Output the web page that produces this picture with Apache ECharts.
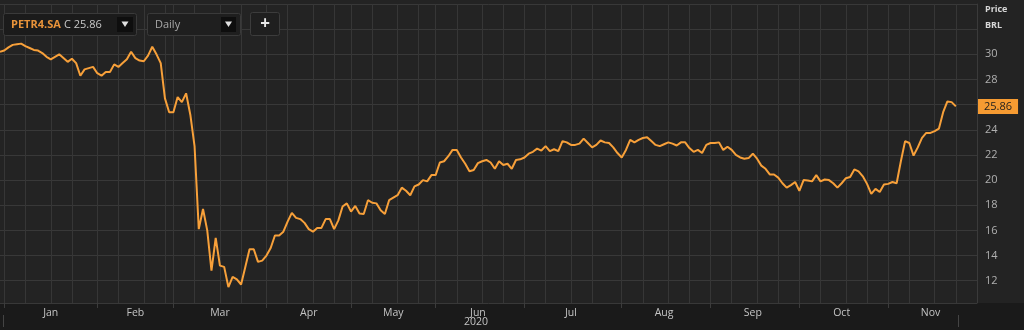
<!DOCTYPE html>
<html>
<head>
<meta charset="utf-8">
<script src="https://cdn.jsdelivr.net/npm/echarts@6/dist/echarts.min.js"></script>
<style>
  html, body { margin:0; padding:0; }
  body { width:1024px; height:330px; background: linear-gradient(to bottom, #232323 0px, #232323 303px, #1a1a1a 303px, #1a1a1a 330px); }
  #chart { width:1024px; height:330px; }
</style>
</head>
<body>
<div id="chart"></div>
<script>
// ---- data ----
const symbol = 'PETR4.SA';
const lastClose = 25.86;
const yearLabel = '2020';
const monthNames = ['Jan','Feb','Mar','Apr','May','Jun','Jul','Aug','Sep','Oct','Nov','Dec'];
const yTickLabels = [12, 14, 16, 18, 20, 22, 24, 26, 28, 30];
const holidays = ['2020-01-01','2020-02-24','2020-02-25','2020-04-10','2020-04-21','2020-05-01',
                  '2020-06-11','2020-09-07','2020-10-12','2020-11-02'];
const pricesDec = [30.2];
const pricesJanFeb = [30.3, 30.55, 30.75, 30.8, 30.85, 30.65, 30.5, 30.35, 30.3, 30.1,
  29.8, 29.6, 29.8, 30.0, 29.7, 29.4, 29.65, 29.3, 28.3, 28.8, 28.9, 29.0,
  28.5, 28.3, 28.6, 28.6, 29.2, 29.0, 29.3, 29.6, 30.2, 29.7, 29.5, 29.45, 29.9, 30.6, 30.0, 29.3, 26.5, 25.4];
const pricesMarApr = [25.4, 26.6, 26.2, 26.9, 25.2, 22.7, 16.1, 17.7, 16.0, 12.8, 15.4, 13.2, 13.1, 11.5,
  12.3, 12.1, 11.7, 13.1, 14.5, 14.5, 13.5, 13.6,
  14.0, 14.6, 15.6, 15.6, 15.9, 16.7, 17.4, 17.0, 16.9, 16.6, 16.1, 15.9, 16.2, 16.2, 16.9, 16.9, 16.1, 16.8, 17.9, 18.15];
const pricesMayJun = [17.5, 17.95, 17.35, 17.3, 18.4, 18.2, 18.15, 17.6, 17.3, 18.4, 18.6, 18.8, 19.4, 19.15,
  18.8, 19.5, 19.65, 20.0, 19.9, 20.4,
  20.4, 21.4, 21.5, 21.9, 22.4, 22.4, 21.8, 21.3, 20.7, 20.8, 21.35, 21.5, 21.6, 21.4, 20.9, 21.5, 21.2, 21.3, 20.9, 21.6, 21.65];
const pricesJulAug = [21.8, 22.1, 22.25, 22.5, 22.35, 22.7, 22.3, 22.45, 22.3, 23.1, 23.0, 22.8, 22.8, 22.9,
  23.3, 22.95, 22.6, 22.8, 23.15, 23.0, 22.95, 22.6, 22.15,
  21.8, 22.4, 23.2, 23.0, 23.2, 23.35, 23.4, 23.1, 22.8, 22.7, 22.85, 23.0, 22.9, 22.75, 23.0, 23.0, 22.55,
  22.25, 22.4, 22.15, 22.8];
const pricesSepOct = [22.95, 22.95, 23.0, 22.4, 22.65, 22.4, 22.0, 21.8, 21.7, 21.75, 22.1, 21.7, 21.15, 20.9,
  20.45, 20.45, 20.2, 19.75, 19.4, 19.6, 19.85,
  19.15, 20.0, 19.97, 19.9, 20.4, 19.9, 20.05, 20.0, 19.75, 19.4, 19.75, 20.15, 20.25, 20.85, 20.7, 20.3,
  19.7, 18.9, 19.3, 19.05, 19.65];
const pricesNov = [19.7, 19.85, 19.75, 21.5, 23.1, 22.95, 21.95, 22.6, 23.35, 23.75, 23.75, 23.9, 24.1,
  25.4, 26.25, 26.2, 25.86];
const totalSlots = 232;

// ---- build categories (trading days) ----
const pad = n => (n < 10 ? '0' : '') + n;
const fmt = d => d.getUTCFullYear() + '-' + pad(d.getUTCMonth() + 1) + '-' + pad(d.getUTCDate());
const dates = ['2019-12-30'];
let d = new Date(Date.UTC(2020, 0, 2));
while (dates.length < totalSlots) {
  const wd = d.getUTCDay();
  const s = fmt(d);
  if (wd !== 0 && wd !== 6 && holidays.indexOf(s) < 0) dates.push(s);
  d = new Date(d.getTime() + 86400000);
}
const prices = [].concat(pricesDec, pricesJanFeb, pricesMarApr, pricesMayJun, pricesJulAug, pricesSepOct, pricesNov);

// month starts, label positions, weekly grid lines
const monthStarts = [];
for (let i = 1; i < dates.length; i++) {
  if (dates[i].slice(0, 7) !== dates[i - 1].slice(0, 7) && dates[i].slice(0, 4) === '2020' && dates[i].slice(5,7) !== '12') monthStarts.push(i);
}
const labelIdx = new Set();
const gridIdx = new Set();
const tickIdx = new Set(monthStarts);
for (let m = 0; m < monthStarts.length; m++) {
  const s = monthStarts[m];
  let e = s;
  while (e < dates.length && dates[e].slice(0, 7) === dates[s].slice(0, 7)) e++;
  labelIdx.add(s + Math.floor((e - s) / 2));
  gridIdx.add(s);
  [5, 11, 16].forEach(o => { if (s + o < e - 1) gridIdx.add(s + o); });
}

const chart = echarts.init(document.getElementById('chart'), null, { renderer: 'canvas' });
const FONT = '"Open Sans", "DejaVu Sans", sans-serif';
const option = {
  animation: false,
  backgroundColor: 'transparent',
  grid: { left: 0, right: 47, top: 4, bottom: 27, containLabel: false },
  axisPointer: { triggerOn: 'none' },
  xAxis: {
    type: 'category',
    data: dates,
    boundaryGap: false,
    axisLine: { show: false },
    axisTick: { show: true, interval: (i) => tickIdx.has(i), length: 5, lineStyle: { color: '#3c3c3c' } },
    axisLabel: {
      interval: (i) => labelIdx.has(i),
      formatter: (v) => monthNames[parseInt(v.slice(5, 7), 10) - 1],
      color: '#c4c4c4', fontSize: 10.5, fontFamily: FONT, margin: 5
    },
    splitLine: { show: true, interval: (i) => gridIdx.has(i), lineStyle: { color: '#363636', width: 1 } },
    axisPointer: { show: false }
  },
  yAxis: {
    type: 'value',
    position: 'right',
    min: 10.23, max: 34, splitNumber: 12, minInterval: 2, maxInterval: 2,
    axisLine: { show: true, lineStyle: { color: '#3a3a3a' } },
    axisTick: { show: false },
    axisLabel: {
      color: '#b0b0b0', fontSize: 11, fontFamily: FONT, margin: 8,
      formatter: (v) => (yTickLabels.indexOf(Math.round(v * 100) / 100) >= 0 ? String(v) : '')
    },
    splitLine: { show: true, lineStyle: { color: '#383838', width: 1 } },
    axisPointer: {
      show: true, type: 'line', value: lastClose, status: 'show', snap: false, triggerTooltip: false,
      lineStyle: { opacity: 0 },
      label: {
        show: true, formatter: () => lastClose.toFixed(2), backgroundColor: '#f69b32',
        color: '#1e1e1e', fontSize: 11, fontFamily: FONT, padding: [2, 6, 2, 6], margin: 1, borderRadius: 0
      }
    }
  },
  series: [{
    type: 'line',
    data: prices,
    showSymbol: false,
    symbol: 'none',
    lineStyle: { color: '#f7a03a', width: 2 },
    z: 5
  }],
  graphic: [
    // toolbar
    { type: 'rect', z: 100, shape: { x: 3.5, y: 13.5, width: 133, height: 22, r: 2 }, style: { fill: '#1b1b1b', stroke: '#3a3a3a', lineWidth: 1 } },
    { type: 'text', z: 101, style: { x: 11, y: 25, text: symbol, fill: '#e8933a', font: 'bold 11px ' + FONT, textVerticalAlign: 'middle', verticalAlign: 'middle' } },
    { type: 'text', z: 101, style: { x: 64, y: 25, text: 'C ' + lastClose.toFixed(2), fill: '#c8c8c8', font: '11px ' + FONT, textVerticalAlign: 'middle', verticalAlign: 'middle' } },
    { type: 'rect', z: 101, shape: { x: 117, y: 17, width: 16, height: 15 }, style: { fill: '#0e0e0e' } },
    { type: 'polygon', z: 102, shape: { points: [[121.5, 21.5], [128.5, 21.5], [125, 27]] }, style: { fill: '#e0e0e0' } },
    { type: 'rect', z: 100, shape: { x: 147.5, y: 13.5, width: 93, height: 22, r: 2 }, style: { fill: '#1f1f1f', stroke: '#3a3a3a', lineWidth: 1 } },
    { type: 'text', z: 101, style: { x: 155, y: 25, text: 'Daily', fill: '#a8a8a8', font: '11px ' + FONT, textVerticalAlign: 'middle', verticalAlign: 'middle' } },
    { type: 'rect', z: 101, shape: { x: 221, y: 17, width: 15, height: 15 }, style: { fill: '#0e0e0e' } },
    { type: 'polygon', z: 102, shape: { points: [[225, 21.5], [232, 21.5], [228.5, 27]] }, style: { fill: '#e0e0e0' } },
    { type: 'rect', z: 100, shape: { x: 250.5, y: 12.5, width: 29, height: 23, r: 2 }, style: { fill: '#1f1f1f', stroke: '#3c3c3c', lineWidth: 1 } },
    { type: 'text', z: 101, style: { x: 265, y: 24, text: '+', fill: '#e8e8e8', font: 'bold 17px ' + FONT, textAlign: 'center', align: 'center', textVerticalAlign: 'middle', verticalAlign: 'middle' } },
    // axis header
    { type: 'text', z: 101, style: { x: 985, y: 9, text: 'Price', fill: '#d8d8d8', font: 'bold 9px ' + FONT, textVerticalAlign: 'middle', verticalAlign: 'middle' } },
    { type: 'text', z: 101, style: { x: 985, y: 25, text: 'BRL', fill: '#d8d8d8', font: 'bold 9px ' + FONT, textVerticalAlign: 'middle', verticalAlign: 'middle' } },
    // year label and markers in the axis band
    { type: 'text', z: 101, style: { x: 476, y: 322, text: yearLabel, fill: '#c4c4c4', font: '10.5px ' + FONT, textAlign: 'center', align: 'center', textVerticalAlign: 'middle', verticalAlign: 'middle' } },
    { type: 'line', z: 101, shape: { x1: 3.5, y1: 315, x2: 3.5, y2: 327 }, style: { stroke: '#444', lineWidth: 1 } },
    { type: 'line', z: 101, shape: { x1: 958.5, y1: 315, x2: 958.5, y2: 327 }, style: { stroke: '#444', lineWidth: 1 } }
  ]
};
chart.setOption(option);
</script>
</body>
</html>
